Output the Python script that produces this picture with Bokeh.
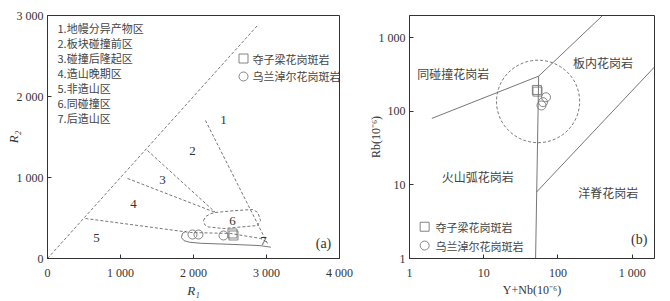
import math
from bokeh.plotting import figure
from bokeh.layouts import row
from bokeh.models import Label, FixedTicker, CustomJSTickFormatter
from bokeh.embed import file_html
from bokeh.resources import INLINE

# ---------------- data: panel (a) R1-R2 ----------------
zone_legend = ["1.地幔分异产物区", "2.板块碰撞前区", "3.碰撞后隆起区", "4.造山晚期区",
               "5.非造山区", "6.同碰撞区", "7.后造山区"]
zone_numbers = ["1", "2", "3", "4", "5", "6", "7"]
zone_num_r1 = [2411, 1986, 1575, 1178, 671, 2534, 2959]
zone_num_r2 = [1704, 1333, 975, 667, 259, 469, 220]

diag_r1 = [0, 2890]
diag_r2 = [0, 2890]
b12_r1 = [2164, 3014]
b12_r2 = [1704, 185]
b23_r1 = [1370, 2301]
b23_r2 = [1333, 568]
b34_r1 = [1096, 2301]
b34_r2 = [988, 568]
b45_r1 = [520, 1959, 2507, 2918, 3014]
b45_r2 = [494, 321, 309, 247, 198]
z6_r1 = [2137, 2170, 2240, 2301, 2550, 2808, 2880, 2918, 2877, 2600, 2411, 2200, 2150, 2137]
z6_r2 = [469, 520, 555, 568, 590, 605, 570, 469, 407, 385, 370, 390, 420, 469]
z7_r1 = [1900, 1850, 1835, 1870, 1950, 2100, 2500, 2900, 3060]
z7_r2 = [340, 310, 260, 220, 200, 188, 175, 160, 140]

duo_r1 = [2534, 2548]
duo_r2 = [309, 284]
wl_r1 = [1986, 2068, 2411]
wl_r2 = [296, 296, 284]

r1_ticks = [0, 1000, 2000, 3000, 4000]
r2_ticks = [0, 1000, 2000, 3000]

# ---------------- data: panel (b) Rb vs Y+Nb ----------------
syn_vag_x = [2, 55]
syn_vag_y = [80, 300]
syn_wpg_x = [55, 400]
syn_wpg_y = [300, 2000]
vag_wpg_x = [50, 55]
vag_wpg_y = [1, 300]
wpg_org_x = [51.5, 2000]
wpg_org_y = [8, 400]
post_col_center = (54, 136)   # Y+Nb, Rb
post_col_radius = 0.56        # in decades

duo_ynb = [52, 53]
duo_rb = [195, 185]
wl_ynb = [69, 63, 60]
wl_rb = [155, 133, 120]

log_ticks = [1, 10, 100, 1000]

field_names = ["同碰撞花岗岩", "板内花岗岩", "火山弧花岗岩", "洋脊花岗岩"]
field_x = [3.9, 405, 8.3, 475]
field_y = [326, 460, 12.8, 7.8]

legend_names = ["夺子梁花岗斑岩", "乌兰淖尔花岗斑岩"]

# ---------------- styles ----------------
SERIF = "Liberation Serif"
CJK = "Noto Sans CJK SC"
AX = "#333333"
TXT = "#444444"
LINE = "#666666"
MARK = "#777777"

fmt = CustomJSTickFormatter(code=r"""
const s = Math.round(tick).toString();
return s.replace(/\B(?=(\d{3})+(?!\d))/g, ' ');
""")


def style_axes(p, xlab, ylab, xlab_style, ylab_style, xlab_size, ylab_size,
               xstand, ystand):
    p.xgrid.grid_line_color = None
    p.ygrid.grid_line_color = None
    p.outline_line_color = AX
    p.outline_line_width = 1
    for ax in (p.xaxis[0], p.yaxis[0]):
        ax.axis_line_color = AX
        ax.major_tick_line_color = AX
        ax.major_tick_in = 4
        ax.major_tick_out = 0
        ax.minor_tick_line_color = None
        ax.major_label_text_font = SERIF
        ax.major_label_text_font_size = "12px"
        ax.major_label_text_color = AX
        ax.axis_label_text_font = SERIF
        ax.axis_label_text_color = AX
        ax.formatter = fmt
    p.xaxis[0].major_label_standoff = 7
    p.yaxis[0].major_label_standoff = 4
    p.xaxis[0].axis_label = xlab
    p.yaxis[0].axis_label = ylab
    p.xaxis[0].axis_label_text_font_style = xlab_style
    p.yaxis[0].axis_label_text_font_style = ylab_style
    p.xaxis[0].axis_label_text_font_size = xlab_size
    p.yaxis[0].axis_label_text_font_size = ylab_size
    p.xaxis[0].axis_label_standoff = xstand
    p.yaxis[0].axis_label_standoff = ystand


def lab(p, x, y, text, font=SERIF, size="12px", align="left", color=TXT):
    p.add_layout(Label(x=x, y=y, text=text, text_font=font, text_font_size=size,
                       text_align=align, text_baseline="middle", text_color=color))


# ---------------- panel (a) ----------------
pa = figure(width=356, height=300, x_range=(0, 4000), y_range=(0, 3000),
            output_backend="svg", toolbar_location=None,
            min_border_left=47, min_border_right=17, min_border_top=15, min_border_bottom=42)
style_axes(pa, "R₁", "R₂", "italic", "italic", "13px", "13px", 0, -7)
pa.xaxis[0].ticker = FixedTicker(ticks=r1_ticks)
pa.yaxis[0].ticker = FixedTicker(ticks=r2_ticks)

dash = dict(line_color=LINE, line_width=0.9, line_dash="3 2")
for xs, ys in [(diag_r1, diag_r2), (b12_r1, b12_r2), (b23_r1, b23_r2),
               (b34_r1, b34_r2), (b45_r1, b45_r2), (z6_r1, z6_r2)]:
    pa.line(xs, ys, **dash)
pa.line(z7_r1, z7_r2, line_color=LINE, line_width=0.9)

pa.scatter(wl_r1, wl_r2, marker="circle", size=9, fill_color=None, line_color=MARK, line_width=0.9)
pa.scatter(duo_r1, duo_r2, marker="square", size=9, fill_color=None, line_color=MARK, line_width=0.9)

for t, x, y in zip(zone_numbers, zone_num_r1, zone_num_r2):
    lab(pa, x, y, t, size="13px", align="center", color=AX)

for i, t in enumerate(zone_legend):
    lab(pa, 137, 2840 - i * 185, t, font=CJK, size="11px")

pa.scatter([2685], [2469], marker="square", size=9, fill_color=None, line_color=MARK, line_width=0.9)
pa.scatter([2685], [2247], marker="circle", size=9, fill_color=None, line_color=MARK, line_width=0.9)
lab(pa, 2808, 2469, legend_names[0], font=CJK, size="11px")
lab(pa, 2808, 2247, legend_names[1], font=CJK, size="11px")

lab(pa, 3781, 185, "(a)", size="14px", align="center", color=AX)

# ---------------- panel (b) ----------------
pb = figure(width=306, height=300, x_axis_type="log", y_axis_type="log",
            x_range=(1, 2000), y_range=(1, 2000),
            output_backend="svg", toolbar_location=None,
            min_border_left=53, min_border_right=8, min_border_top=15, min_border_bottom=40)
style_axes(pb, "Y+Nb(10⁻⁶)", "Rb(10⁻⁶)", "normal", "normal", "12px", "12px", 0, -7)
pb.xaxis[0].ticker = FixedTicker(ticks=log_ticks)
pb.yaxis[0].ticker = FixedTicker(ticks=log_ticks)

solid = dict(line_color=LINE, line_width=0.9)
for xs, ys in [(syn_vag_x, syn_vag_y), (syn_wpg_x, syn_wpg_y),
               (vag_wpg_x, vag_wpg_y), (wpg_org_x, wpg_org_y)]:
    pb.line(xs, ys, **solid)

cx, cy = math.log10(post_col_center[0]), math.log10(post_col_center[1])
angles = [2 * math.pi * k / 120 for k in range(121)]
circ_x = [10 ** (cx + post_col_radius * math.cos(a)) for a in angles]
circ_y = [10 ** (cy + post_col_radius * math.sin(a)) for a in angles]
pb.line(circ_x, circ_y, **dash)

pb.scatter(duo_ynb, duo_rb, marker="square", size=9, fill_color=None, line_color=MARK, line_width=0.9)
pb.scatter(wl_ynb, wl_rb, marker="circle", size=9, fill_color=None, line_color=MARK, line_width=0.9)

for t, x, y in zip(field_names, field_x, field_y):
    lab(pb, x, y, t, font=CJK, size="12px", align="center")

pb.scatter([1.6], [2.7], marker="square", size=9, fill_color=None, line_color=MARK, line_width=0.9)
pb.scatter([1.6], [1.5], marker="circle", size=9, fill_color=None, line_color=MARK, line_width=0.9)
lab(pb, 2.24, 2.7, legend_names[0], font=CJK, size="11px")
lab(pb, 2.24, 1.5, legend_names[1], font=CJK, size="11px")

lab(pb, 1245, 1.8, "(b)", size="14px", align="center", color=AX)

layout = row(pa, pb)
open("out.html", "w").write(file_html(layout, INLINE))
